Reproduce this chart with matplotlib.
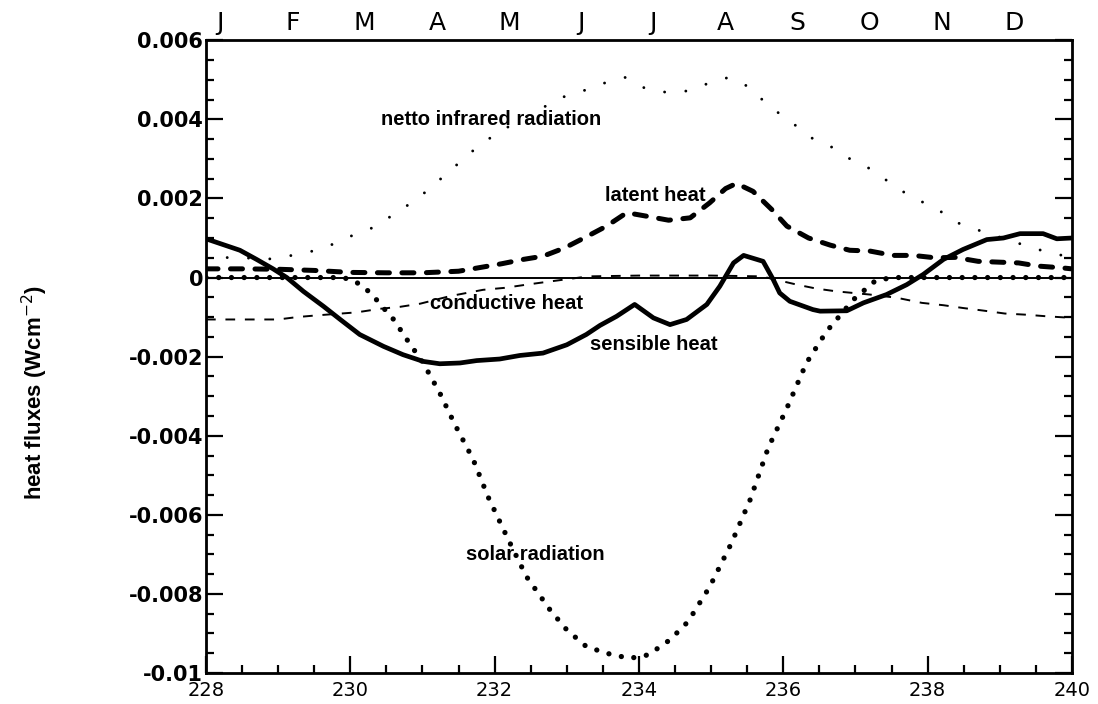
import numpy as np
import matplotlib
matplotlib.use("Agg")
import matplotlib.pyplot as plt
from matplotlib.ticker import MultipleLocator, FixedLocator

# values in units of 1e-3 W cm^-2
solar_x = [228, 229, 229.9, 230.06, 230.2, 230.32, 230.46, 230.6, 230.8, 231.01, 231.24,
           231.45, 231.7, 231.91, 232.19, 232.44, 232.77, 233.0, 233.27, 233.55, 233.87,
           234.13, 234.43, 234.68, 234.98, 235.28, 235.54, 235.79, 236.05, 236.32, 236.6,
           236.97, 237.27, 237.5, 238.5, 240]
solar_y = [0, 0, 0, -0.09, -0.26, -0.47, -0.77, -1.06, -1.61, -2.16, -2.92,
           -3.72, -4.59, -5.55, -6.63, -7.56, -8.41, -8.91, -9.33, -9.50, -9.63,
           -9.54, -9.16, -8.70, -7.82, -6.72, -5.62, -4.31, -3.30, -2.16, -1.36,
           -0.56, -0.09, 0, 0, 0]

ir_x = [228, 228.32, 228.91, 229.19, 229.48, 229.77, 230.06, 230.34, 230.62, 230.93, 231.23,
        231.5, 231.79, 232.08, 232.65, 232.94, 233.24, 233.54, 233.81, 234.09, 234.39,
        234.68, 234.96, 235.24, 235.55, 235.79, 236.05, 236.38, 236.66, 236.95, 237.25,
        237.55, 237.82, 238.12, 238.39, 238.7, 239.27, 239.57, 240]
ir_y = [0.45, 0.51, 0.47, 0.56, 0.67, 0.85, 1.09, 1.28, 1.62, 1.99, 2.46,
        2.89, 3.35, 3.70, 4.28, 4.56, 4.73, 4.93, 5.06, 4.78, 4.68,
        4.72, 4.91, 5.06, 4.80, 4.34, 4.02, 3.54, 3.31, 2.97, 2.71,
        2.29, 2.00, 1.75, 1.40, 1.20, 0.86, 0.69, 0.50]

lat_x = [228, 228.5, 229, 229.5, 230, 230.5, 231, 231.5, 231.85, 232.1, 232.4, 232.67,
         232.97, 233.27, 233.55, 233.83, 234.11, 234.41, 234.71, 234.98, 235.2, 235.35,
         235.58, 235.84, 236.05, 236.35, 236.65, 236.92, 237.2, 237.52, 237.8, 238.1,
         238.38, 238.7, 238.98, 239.26, 239.53, 239.83, 240]
lat_y = [0.22, 0.22, 0.21, 0.18, 0.13, 0.12, 0.12, 0.16, 0.27, 0.35, 0.46, 0.54,
         0.75, 1.03, 1.30, 1.64, 1.55, 1.45, 1.51, 1.89, 2.25, 2.38,
         2.18, 1.72, 1.30, 1.00, 0.82, 0.69, 0.67, 0.56, 0.56, 0.50,
         0.51, 0.41, 0.39, 0.37, 0.29, 0.25, 0.22]

cond_x = [228, 229.0, 229.26, 229.51, 230.09, 230.41, 230.69, 230.97, 231.38, 231.84,
          232.14, 232.44, 232.72, 232.97, 233.3, 234, 235, 235.7, 236.19, 236.46, 236.74,
          237.2, 237.57, 237.92, 238.22, 238.49, 238.79, 239.07, 239.37, 239.65, 240]
cond_y = [-1.06, -1.06, -1.0, -0.96, -0.88, -0.79, -0.74, -0.66, -0.47, -0.31,
          -0.26, -0.18, -0.11, -0.05, 0.03, 0.05, 0.05, 0.03, -0.18, -0.28, -0.35,
          -0.43, -0.51, -0.64, -0.70, -0.77, -0.84, -0.91, -0.94, -0.98, -1.02]

sens_x = [228.0, 228.47, 228.7, 228.93, 229.12, 229.35, 229.63, 229.86, 230.13, 230.46,
          230.73, 231.01, 231.24, 231.52, 231.75, 232.07, 232.35, 232.67, 233.0, 233.27,
          233.46, 233.69, 233.94, 234.2, 234.43, 234.66, 234.94, 235.12, 235.31, 235.45,
          235.72, 235.86, 235.95, 236.09, 236.41, 236.51, 236.88, 237.11, 237.43, 237.71,
          237.94, 238.22, 238.49, 238.82, 239.05, 239.28, 239.6, 239.79, 240]
sens_y = [0.98, 0.69, 0.46, 0.22, 0.0, -0.35, -0.73, -1.06, -1.44, -1.74,
          -1.95, -2.12, -2.18, -2.16, -2.10, -2.06, -1.97, -1.91, -1.70, -1.44,
          -1.21, -0.98, -0.68, -1.02, -1.19, -1.06, -0.68, -0.22, 0.37, 0.56,
          0.41, -0.05, -0.39, -0.60, -0.81, -0.85, -0.84, -0.64, -0.43, -0.18,
          0.08, 0.46, 0.71, 0.96, 1.00, 1.11, 1.11, 0.98, 1.00]

months = ["J", "F", "M", "A", "M", "J", "J", "A", "S", "O", "N", "D"]
month_pos = [228.2 + i for i in range(12)]
xticks = [228, 230, 232, 234, 236, 238, 240]
yticks = [0.006, 0.004, 0.002, 0, -0.002, -0.004, -0.006, -0.008, -0.01]
ytick_labels = ["0.006", "0.004", "0.002", "0", "-0.002", "-0.004", "-0.006", "-0.008", "-0.01"]

narrow = ["Liberation Sans Narrow", "DejaVu Sans"]
sc = 1e-3
fig = plt.figure(figsize=(10.98, 7.04), dpi=100)
ax = fig.add_axes([0.1876, 0.044, 0.7887, 0.8988])

ax.axhline(0, color="black", lw=1.4, zorder=1)
ax.plot(ir_x, np.array(ir_y) * sc, color="black", lw=2.1,
        linestyle=(0, (0.01, 7.3)), dash_capstyle="round")
ax.plot(solar_x, np.array(solar_y) * sc, color="black", lw=3.8,
        linestyle=(0, (0.01, 2.4)), dash_capstyle="round")
ax.plot(lat_x, np.array(lat_y) * sc, color="black", lw=3.6,
        linestyle=(0, (2.4, 2.5)), dash_capstyle="round")
ax.plot(cond_x, np.array(cond_y) * sc, color="black", lw=1.4,
        linestyle=(0, (5, 5)))
ax.plot(sens_x, np.array(sens_y) * sc, color="black", lw=3.4,
        solid_capstyle="round", solid_joinstyle="round")

tkw = dict(ha="left", va="center", fontsize=14.5, fontweight="bold", family="Liberation Sans")
ax.text(230.42, 0.0040, "netto infrared radiation", **tkw)
ax.text(233.53, 0.00208, "latent heat", **tkw)
ax.text(231.10, -0.00066, "conductive heat", **tkw)
ax.text(233.32, -0.0017, "sensible heat", **tkw)
ax.text(231.60, -0.0070, "solar radiation", **tkw)

ax.set_xlim(228, 240)
ax.set_ylim(-0.01, 0.006)
ax.set_xticks(xticks)
ax.set_xticklabels([str(v) for v in xticks], fontsize=14, family=narrow)
ax.xaxis.set_minor_locator(MultipleLocator(0.5))
ax.yaxis.set_major_locator(FixedLocator(yticks))
ax.set_yticklabels(ytick_labels, fontsize=15, fontweight="bold", family="DejaVu Sans")
ax.yaxis.set_minor_locator(MultipleLocator(0.0005))
ax.tick_params(which="both", direction="in", top=True, right=True, width=1.6)
ax.tick_params(which="major", length=12)
ax.tick_params(which="minor", length=6)
ax.tick_params(axis="y", pad=2)
ax.tick_params(axis="x", pad=6)
for s in ax.spines.values():
    s.set_linewidth(2.0)

ax2 = ax.twiny()
ax2.set_xlim(228, 240)
ax2.set_xticks(month_pos)
ax2.set_xticklabels(months, fontsize=18, family=narrow)
ax2.tick_params(length=0, pad=4)
ax2.spines["top"].set_visible(False)

ax.set_ylabel("heat fluxes (Wcm$^{-2}$)", fontsize=16, fontweight="bold",
              family="Liberation Sans")
ax.yaxis.set_label_coords(-0.18, 0.444)

fig.savefig("out.png", dpi=100)
